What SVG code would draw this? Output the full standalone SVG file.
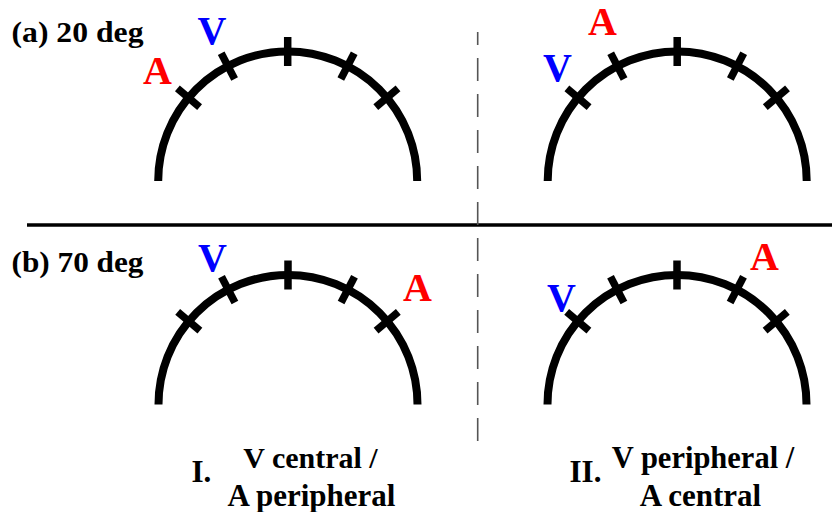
<svg xmlns="http://www.w3.org/2000/svg" xmlns:xlink="http://www.w3.org/1999/xlink" width="832" height="512" viewBox="0 0 832 512">
<style>
.t{font-family:"Liberation Serif","Times New Roman",serif;font-weight:bold;fill:#000}
.big{font-family:"Liberation Serif","Times New Roman",serif;font-weight:bold;font-size:40px}
.a{fill:#ff0000}
.v{fill:#0000ff}
.arc{fill:none;stroke:#000;stroke-width:8}
.tk{stroke:#000;stroke-width:7.5}
</style>
<defs>
<g id="dial">
<path class="arc" d="M-129.5 0 A129.5 129.5 0 0 1 129.5 0"/>
<line class="tk" x1="0" y1="-144" x2="0" y2="-115"/>
<line class="tk" x1="0" y1="-144" x2="0" y2="-115" transform="rotate(-27.5)"/>
<line class="tk" x1="0" y1="-144" x2="0" y2="-115" transform="rotate(27.5)"/>
<line class="tk" x1="0" y1="-144" x2="0" y2="-115" transform="rotate(-50)"/>
<line class="tk" x1="0" y1="-144" x2="0" y2="-115" transform="rotate(50)"/>
</g>
</defs>
<rect width="832" height="512" fill="#fff"/>
<g id="connectors">
<line x1="27" y1="225" x2="832" y2="225" stroke="#000" stroke-width="3.5"/>
<line x1="477.7" y1="32" x2="477.7" y2="445" stroke="#555" stroke-width="1.6" stroke-dasharray="23 13" stroke-dashoffset="10"/>
</g>
<g id="title-a"><text class="t" x="11.5" y="41.5" font-size="30" textLength="132" lengthAdjust="spacingAndGlyphs">(a) 20 deg</text></g>
<g id="title-b"><text class="t" x="11.5" y="272" font-size="30" textLength="132" lengthAdjust="spacingAndGlyphs">(b) 70 deg</text></g>
<g id="dial-a-I">
<use xlink:href="#dial" x="287.7" y="181"/>
<text class="big a" x="143" y="84">A</text>
<text class="big v" x="197.5" y="44">V</text>
</g>
<g id="dial-a-II">
<use xlink:href="#dial" x="677.2" y="181"/>
<text class="big a" x="588" y="34.5">A</text>
<text class="big v" x="543" y="80.5">V</text>
</g>
<g id="dial-b-I">
<use xlink:href="#dial" x="288" y="404.5"/>
<text class="big v" x="198" y="270.5">V</text>
<text class="big a" x="403" y="301">A</text>
</g>
<g id="dial-b-II">
<use xlink:href="#dial" x="677" y="404.5"/>
<text class="big v" x="547" y="311">V</text>
<text class="big a" x="750" y="269.5">A</text>
</g>
<g id="label-I">
<text class="t" x="191.5" y="482" font-size="31">I.</text>
<text class="t" x="310.5" y="468" font-size="30" text-anchor="middle">V central /</text>
<text class="t" x="311.5" y="506" font-size="31" text-anchor="middle">A peripheral</text>
</g>
<g id="label-II">
<text class="t" x="569.5" y="482" font-size="31">II.</text>
<text class="t" x="703" y="468" font-size="30.5" text-anchor="middle">V peripheral /</text>
<text class="t" x="700.5" y="506" font-size="31" text-anchor="middle">A central</text>
</g>
</svg>
